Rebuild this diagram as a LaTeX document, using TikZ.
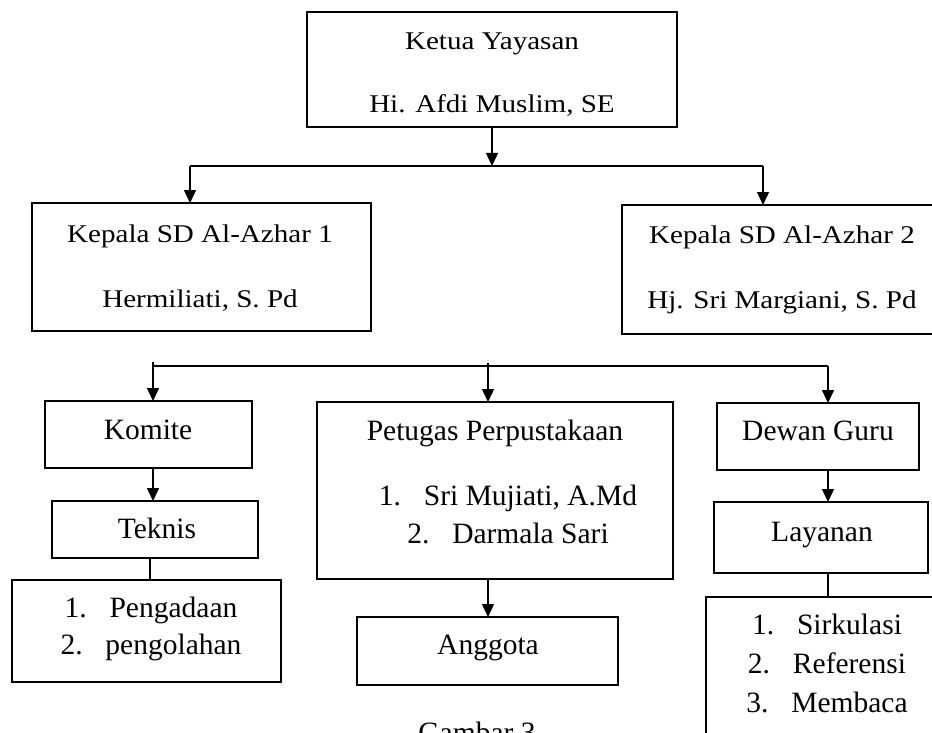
\documentclass[tikz,border=0pt]{standalone}
\usepackage{fontspec}
\setmainfont{Liberation Serif}
\newfontfamily\topf{Liberation Serif}[FakeStretch=1.14]
\usetikzlibrary{arrows.meta}
\tikzset{
  box/.style={draw, line width=1.4pt, inner sep=0pt, outer sep=0pt, anchor=north west},
  conn/.style={line width=1.4pt},
  arr/.style={line width=1.4pt, -{Triangle[width=12pt,length=13pt]}},
  ttxt/.style={anchor=base, inner sep=0pt, font=\topf\fontsize{25.5}{30}\selectfont},
  btxt/.style={anchor=base, inner sep=0pt, font=\fontsize{29.5}{34}\selectfont},
}
\newcommand{\itm}[1]{\makebox[45pt][l]{#1}}
\begin{document}
\begin{tikzpicture}[x=1pt,y=-1pt]
\fill[white] (0,0) rectangle (932,733);
\clip (0,0) rectangle (932,733);
% boxes
\node[box, minimum width=370pt, minimum height=115pt] (top) at (307,12) {};
\node[box, minimum width=339pt, minimum height=128pt] (left) at (32,203) {};
\node[box, minimum width=323pt, minimum height=129pt] (right) at (622,205) {};
\node[box, minimum width=207pt, minimum height=67pt] (komite) at (45,401) {};
\node[box, minimum width=206pt, minimum height=57pt] (teknis) at (52,501) {};
\node[box, minimum width=269pt, minimum height=102pt] (peng) at (12,580) {};
\node[box, minimum width=356pt, minimum height=177pt] (petugas) at (317,402) {};
\node[box, minimum width=261pt, minimum height=68pt] (anggota) at (357,617) {};
\node[box, minimum width=202pt, minimum height=67pt] (dewan) at (717,403) {};
\node[box, minimum width=214pt, minimum height=71pt] (layanan) at (714,502) {};
\node[box, minimum width=240pt, minimum height=170pt] (list) at (706,597) {};
% texts
\node[ttxt] (t1) at (492,50) {Ketua Yayasan};
\node[ttxt] (t2) at (492,113) {Hi. Afdi Muslim, SE};
\node[ttxt] (l1) at (200,242) {Kepala SD Al-Azhar 1};
\node[ttxt] (l2) at (200,307) {Hermiliati, S. Pd};
\node[ttxt] (r1) at (782,243) {Kepala SD Al-Azhar 2};
\node[ttxt] (r2) at (782,308) {Hj. Sri Margiani, S. Pd};
\node[btxt] (k1) at (148,439) {Komite};
\node[btxt] (k2) at (157,538) {Teknis};
\node[btxt] (p1) at (151,617) {\itm{1.}Pengadaan};
\node[btxt] (p2) at (151,654) {\itm{2.}pengolahan};
\node[btxt] (u1) at (495,440) {Petugas Perpustakaan};
\node[btxt] (u2) at (508,505) {\itm{1.}Sri Mujiati, A.Md};
\node[btxt] (u3) at (508,543) {\itm{2.}Darmala Sari};
\node[btxt] (a1) at (488,654) {Anggota};
\node[btxt] (d1) at (818,440) {Dewan Guru};
\node[btxt] (d2) at (822,541) {Layanan};
\node[btxt] (s1) at (827,634) {\itm{1.}Sirkulasi};
\node[btxt] (s2) at (827,673) {\itm{2.}Referensi};
\node[btxt] (s3) at (827,712) {\itm{3.}Membaca};
\node[btxt] (cap) at (477,742) {Gambar 3};
% bus coordinates
\coordinate (tbM) at (492,166);
\coordinate (tbL) at (190,166);
\coordinate (tbR) at (763,166);
\coordinate (bL) at (153,366);
\coordinate (bM) at (488,366);
\coordinate (bR) at (828,366);
\coordinate (tp) at (150,570);
% connectors
\draw[arr] (top.south) -- (tbM);
\draw[conn] (tbL) -- (tbR);
\draw[arr] (tbL) -- (left.north -| tbL);
\draw[arr] (tbR) -- (right.north -| tbR);
\draw[conn] ([yshift=4pt]bL) -- (bL) -- (bR);
\draw[arr] (bL) -- (komite.north -| bL);
\draw[arr] ([yshift=3pt]bM) -- (petugas.north -| bM);
\draw[arr] (bR) -- (dewan.north -| bR);
\draw[arr] (komite.south -| bL) -- (teknis.north -| bL);
\draw[conn] (teknis.south -| tp) -- (peng.north -| tp);
\draw[arr] (petugas.south -| bM) -- (anggota.north -| bM);
\draw[arr] (dewan.south -| bR) -- (layanan.north -| bR);
\draw[conn] (layanan.south -| bR) -- (list.north -| bR);
\end{tikzpicture}
\end{document}
